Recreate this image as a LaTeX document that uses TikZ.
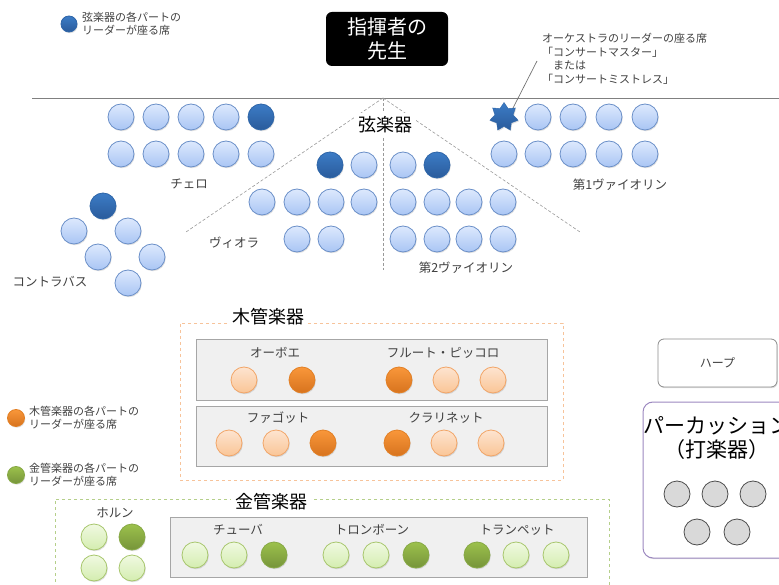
\documentclass[tikz,border=0pt]{standalone}
\usepackage{fontspec}
\setmainfont{Noto Sans CJK JP}
\usetikzlibrary{shapes.geometric,shadows}
\definecolor{txt}{HTML}{404040}
\definecolor{bTop}{HTML}{DDE9FD}
\definecolor{bBot}{HTML}{A9C5F4}
\definecolor{bBrd}{HTML}{6A8FC8}
\definecolor{dTop}{HTML}{3C7CC6}
\definecolor{dBot}{HTML}{2A5B9B}
\definecolor{dBrd}{HTML}{2E65A8}
\definecolor{oTop}{HTML}{FDE4D0}
\definecolor{oBot}{HTML}{FAC596}
\definecolor{oBrd}{HTML}{F2A567}
\definecolor{odTop}{HTML}{F9973A}
\definecolor{odBot}{HTML}{D7731E}
\definecolor{odBrd}{HTML}{E27F24}
\definecolor{gTop}{HTML}{F0F9E2}
\definecolor{gBot}{HTML}{D4EDAF}
\definecolor{gBrd}{HTML}{A7C66C}
\definecolor{gdTop}{HTML}{9CC14C}
\definecolor{gdBot}{HTML}{76943A}
\definecolor{gdBrd}{HTML}{86A844}
\definecolor{wwBox}{HTML}{F7C39A}
\definecolor{brBox}{HTML}{B5CF8A}
\definecolor{purp}{HTML}{9C88C0}
\tikzset{
  shad/.style={drop shadow={opacity=0.25,shadow xshift=0.8pt,shadow yshift=-1.2pt}},
  seat/.style={circle,minimum size=26pt,inner sep=0pt,line width=0.8pt,draw=bBrd,top color=bTop,bottom color=bBot,shad},
  seatdark/.style={seat,draw=dBrd,top color=dTop,bottom color=dBot},
  oseat/.style={seat,draw=oBrd,top color=oTop,bottom color=oBot},
  oseatdark/.style={seat,draw=odBrd,top color=odTop,bottom color=odBot},
  gseat/.style={seat,draw=gBrd,top color=gTop,bottom color=gBot},
  gseatdark/.style={seat,draw=gdBrd,top color=gdTop,bottom color=gdBot},
  pseat/.style={circle,minimum size=26pt,inner sep=0pt,line width=0.8pt,draw=black!70,fill=black!15},
  lbl/.style={font=\fontsize{12.5}{14}\selectfont,text=txt,inner sep=1pt},
  small/.style={font=\fontsize{11}{13.5}\selectfont,text=txt,inner sep=0pt,align=left},
  title/.style={font=\fontsize{18}{20}\selectfont,text=black,fill=white,inner sep=4pt},
  guide/.style={draw=black!40,dash pattern=on 3pt off 2pt,line width=0.6pt},
  graybox/.style={draw=black!35,fill=black!6,line width=0.8pt,shad},
}
\begin{document}
\begin{tikzpicture}[x=1pt,y=-1pt]
\useasboundingbox (0,0) rectangle (779,585);
\clip (0,0) rectangle (779,585);

% stage line and guides
\coordinate (hl1) at (32,98);
\coordinate (hl2) at (779,98);
\coordinate (apex) at (383,98);
\coordinate (gl) at (186,232);
\coordinate (gr) at (580,232);
\coordinate (gv) at (383,270);
\draw[black!50,line width=0.8pt] (hl1) -- (hl2);
\draw[guide] (apex) -- (gl);
\draw[guide] (apex) -- (gr);
\draw[guide] (apex) -- (gv);
\node[title] (strings) at (385,125) {弦楽器};

% conductor
\node[fill=black,rounded corners=6pt,minimum width=122pt,minimum height=54pt,text=white,align=center,
  font=\fontsize{20}{24}\selectfont,inner sep=0pt] (cond) at (387,39) {指揮者の\\先生};

% legend top
\node[seatdark,minimum size=16pt] (legb) at (69,24) {};
\node[small,anchor=west] (legbt) at (82,24) {弦楽器の各パートの\\リーダーが座る席};

% cello
\foreach \x [count=\i] in {121,156,191,226} \node[seat] (ceA\i) at (\x,117) {};
\node[seatdark] (ceA5) at (261,117) {};
\foreach \x [count=\i] in {121,156,191,226,261} \node[seat] (ceB\i) at (\x,154) {};
\node[lbl] (celloL) at (189,184) {チェロ};

% first violin
\node[star,star points=7,star point ratio=1.55,minimum size=29pt,inner sep=0pt,draw=dBrd,top color=dTop,bottom color=dBot,shad] (cm) at (504,117) {};
\foreach \x [count=\i] in {538,573,609,645} \node[seat] (vaA\i) at (\x,117) {};
\foreach \x [count=\i] in {504,538,573,609,645} \node[seat] (vaB\i) at (\x,154) {};
\node[lbl] (v1L) at (620,185) {第1ヴァイオリン};
\node[small,anchor=north west] (cmT) at (542,33) {オーケストラのリーダーの座る席\\「コンサートマスター」\\\hspace*{11pt}または\\「コンサートミストレス」};
\coordinate (cmP) at (537,61);
\draw[black!55,line width=0.7pt] (cm.north east) -- (cmP);

% viola
\node[seatdark] (viA1) at (330,165) {};
\node[seat] (viA2) at (364,165) {};
\foreach \x [count=\i] in {262,297,331,364} \node[seat] (viB\i) at (\x,202) {};
\foreach \x [count=\i] in {297,331} \node[seat] (viC\i) at (\x,239) {};
\node[lbl] (violaL) at (234,243) {ヴィオラ};

% second violin
\node[seat] (vbA1) at (403,165) {};
\node[seatdark] (vbA2) at (437,165) {};
\foreach \x [count=\i] in {403,437,469,503} \node[seat] (vbB\i) at (\x,202) {};
\foreach \x [count=\i] in {403,437,469,503} \node[seat] (vbC\i) at (\x,239) {};
\node[lbl] (v2L) at (466,268) {第2ヴァイオリン};

% contrabass
\node[seatdark] (cb1) at (103,206) {};
\node[seat] (cb2) at (74,231) {};
\node[seat] (cb3) at (128,231) {};
\node[seat] (cb4) at (98,257) {};
\node[seat] (cb5) at (152,257) {};
\node[seat] (cb6) at (128,283) {};
\node[lbl] (cbL) at (50,282) {コントラバス};

% woodwinds
\node[draw=wwBox,dashed,line width=0.7pt,minimum width=383pt,minimum height=157pt,inner sep=0pt] (wwbox) at (371.5,401.5) {};
\node[title] (wwT) at (268,317) {木管楽器};
\node[graybox,minimum width=351pt,minimum height=61pt,inner sep=0pt] (obox) at (371.5,369.5) {};
\node[graybox,minimum width=351pt,minimum height=60pt,inner sep=0pt] (fbox) at (371.5,436) {};
\node[lbl] (oboeL) at (275,353) {オーボエ};
\node[lbl] (fluteL) at (443,353) {フルート・ピッコロ};
\node[oseat] (ob1) at (244,380) {};
\node[oseatdark] (ob2) at (302,380) {};
\node[oseatdark] (fl1) at (399,380) {};
\node[oseat] (fl2) at (446,380) {};
\node[oseat] (fl3) at (493,380) {};
\node[lbl] (fagL) at (278,418) {ファゴット};
\node[lbl] (claL) at (446,418) {クラリネット};
\node[oseat] (fg1) at (229,443) {};
\node[oseat] (fg2) at (276,443) {};
\node[oseatdark] (fg3) at (323,443) {};
\node[oseatdark] (cl1) at (397,443) {};
\node[oseat] (cl2) at (444,443) {};
\node[oseat] (cl3) at (491,443) {};

% legends left
\node[oseatdark,minimum size=17pt] (lego) at (16,418) {};
\node[small,anchor=west] (legot) at (29,418) {木管楽器の各パートの\\リーダーが座る席};
\node[gseatdark,minimum size=17pt] (legg) at (16,475) {};
\node[small,anchor=west] (leggt) at (29,475) {金管楽器の各パートの\\リーダーが座る席};

% brass
\node[draw=brBox,dashed,line width=0.7pt,minimum width=554pt,minimum height=120pt,inner sep=0pt] (brbox) at (332,559) {};
\node[title] (brT) at (271,502) {金管楽器};
\node[lbl] (hornL) at (115,513) {ホルン};
\node[gseat] (hn1) at (94,537) {};
\node[gseatdark] (hn2) at (132,537) {};
\node[gseat] (hn3) at (94,568) {};
\node[gseat] (hn4) at (132,568) {};
\node[graybox,minimum width=417pt,minimum height=60pt,inner sep=0pt] (bbox) at (378.5,547) {};
\node[lbl] (tubaL) at (238,530) {チューバ};
\node[lbl] (tbL) at (372,530) {トロンボーン};
\node[lbl] (tpL) at (517,530) {トランペット};
\node[gseat] (tu1) at (195,555) {};
\node[gseat] (tu2) at (234,555) {};
\node[gseatdark] (tu3) at (274,555) {};
\node[gseat] (tb1) at (336,555) {};
\node[gseat] (tb2) at (376,555) {};
\node[gseatdark] (tb3) at (416,555) {};
\node[gseatdark] (tp1) at (477,555) {};
\node[gseat] (tp2) at (516,555) {};
\node[gseat] (tp3) at (556,555) {};

% harp
\node[draw=black!45,fill=white,rounded corners=6pt,line width=0.8pt,minimum width=119pt,minimum height=48pt,shad,
  font=\fontsize{12}{14}\selectfont,text=txt] (harp) at (717.5,363) {ハープ};

% percussion
\node[draw=purp,fill=white,rounded corners=10pt,line width=1pt,minimum width=150pt,minimum height=156pt,inner sep=0pt,shad] (perc) at (718,480) {};
\node[font=\fontsize{21}{24}\selectfont,text=black,align=center,inner sep=0pt] (percT) at (717,438) {パーカッション\\（打楽器）};
\node[pseat] (pc1) at (677,494) {};
\node[pseat] (pc2) at (715,494) {};
\node[pseat] (pc3) at (753,494) {};
\node[pseat] (pc4) at (697,532) {};
\node[pseat] (pc5) at (737,532) {};
\end{tikzpicture}
\end{document}
